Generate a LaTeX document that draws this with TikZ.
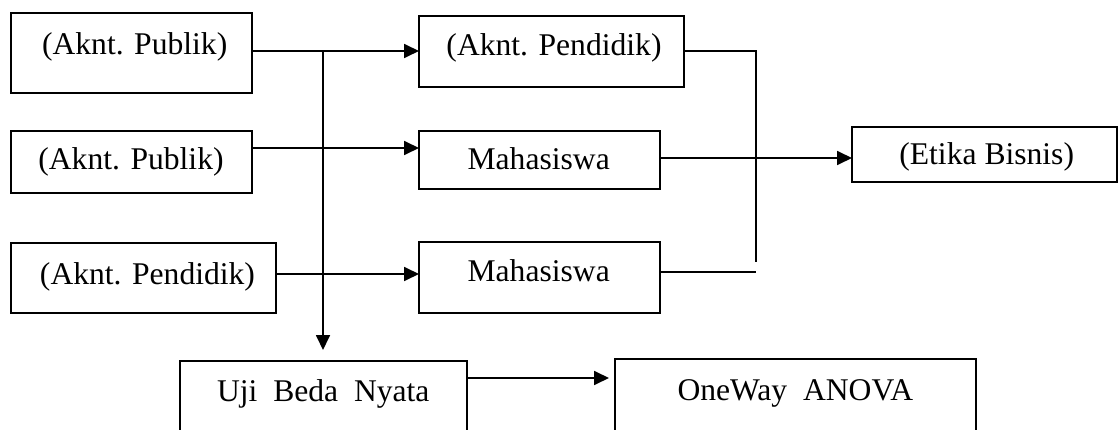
\documentclass[tikz,border=0pt]{standalone}
\usepackage{fontspec}
\setmainfont{Liberation Serif}
\usetikzlibrary{arrows.meta}
\begin{document}
\begin{tikzpicture}[x=1pt,y=-1pt,
  box/.style={draw=black, line width=1.8pt, rectangle, inner sep=0pt, outer sep=0pt},
  lbl/.style={inner sep=0pt, outer sep=0pt, anchor=base, font=\fontsize{31.6}{38}\selectfont},
  ln/.style={draw=black, line width=1.8pt},
  arr/.style={ln, -{Triangle[length=15pt,width=14pt]}}]
\useasboundingbox (0,0) rectangle (1119,430);
\clip (0,0) rectangle (1119,430);
% boxes
\node[box, minimum width=241pt, minimum height=80pt] (b1) at (131.5,53) {};
\node[box, minimum width=241pt, minimum height=62pt] (b2) at (131.5,162) {};
\node[box, minimum width=265pt, minimum height=70pt] (b3) at (143.5,278) {};
\node[box, minimum width=265pt, minimum height=71pt] (b4) at (551.5,51.5) {};
\node[box, minimum width=241pt, minimum height=58pt] (b5) at (539.5,160) {};
\node[box, minimum width=241pt, minimum height=71pt] (b6) at (539.5,277.5) {};
\node[box, minimum width=265pt, minimum height=55pt] (etika) at (984.5,154.5) {};
\node[box, minimum width=287pt, minimum height=99pt] (uji) at (323.5,410.5) {};
\node[box, minimum width=361pt, minimum height=101pt] (one) at (795.5,409.5) {};
% texts
\node[lbl] (t1) at (134.7,55) {(Aknt. Publik)};
\node[lbl] (t2) at (131,170) {(Aknt. Publik)};
\node[lbl] (t3) at (147.5,285) {(Aknt. Pendidik)};
\node[lbl] (t4) at (554,56) {(Aknt. Pendidik)};
\node[lbl] (t5) at (538.7,170) {Mahasiswa};
\node[lbl] (t6) at (538.7,281.7) {Mahasiswa};
\node[lbl] (t7) at (986.7,165) {(Etika Bisnis)};
\node[lbl] (t8) at (323.3,401) {Uji\ \ Beda\ \ Nyata};
\node[lbl] (t9) at (795.3,400) {OneWay\ \ ANOVA};
% junction coordinates
\coordinate (j) at (323,51);
\coordinate (rt) at (756,51);
\coordinate (rb) at (756,262);
\coordinate (rl) at (756,272);
% connectors
\draw[arr] (b1.east |- j) -- (b4.west |- j);
\draw[arr] (b2.east |- 0,148) -- (b5.west |- 0,148);
\draw[arr] (b3.east |- 0,274) -- (b6.west |- 0,274);
\draw[arr, shorten >=11pt] (j) -- (j |- uji.north);
\draw[ln] (b4.east |- rt) -- (rt) -- (rb);
\draw[ln] (b6.east |- rl) -- (rl);
\draw[arr] (b5.east |- 0,158) -- (etika.west |- 0,158);
\draw[arr, shorten >=6pt] (uji.east |- 0,378) -- (one.west |- 0,378);
\end{tikzpicture}
\end{document}
